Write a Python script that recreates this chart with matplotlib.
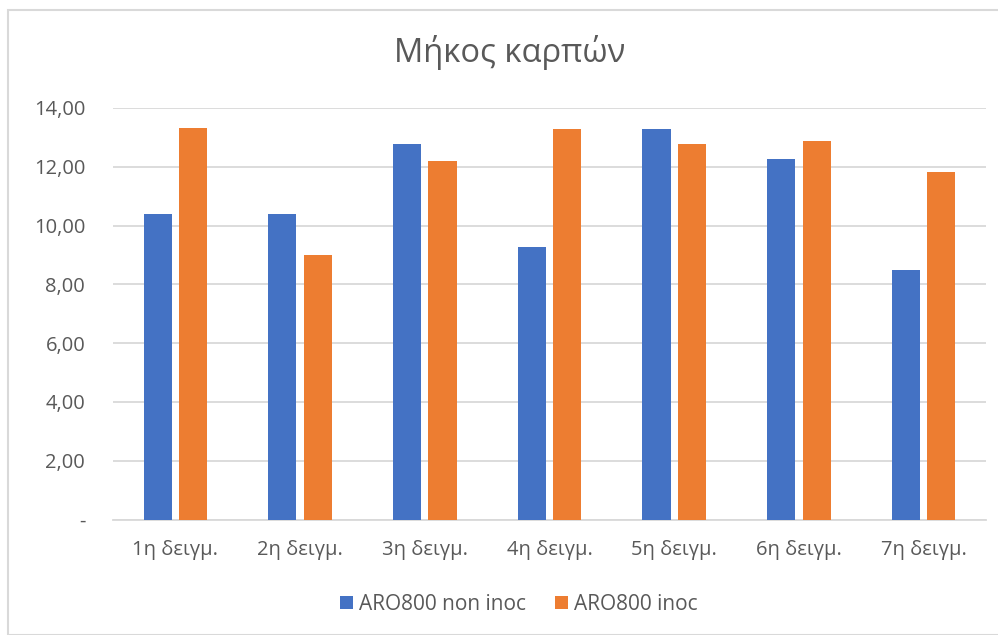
import matplotlib
matplotlib.use("Agg")
import matplotlib.pyplot as plt
from matplotlib.patches import Rectangle
import numpy as np

plt.rcParams['font.family'] = ['Open Sans', 'DejaVu Sans']

categories = ["1η δειγμ.", "2η δειγμ.", "3η δειγμ.", "4η δειγμ.", "5η δειγμ.", "6η δειγμ.", "7η δειγμ."]
non_inoc = [10.38, 10.38, 12.77, 9.26, 13.27, 12.27, 8.50]
inoc = [13.31, 9.00, 12.19, 13.27, 12.77, 12.88, 11.84]
series_names = ["ARO800 non inoc", "ARO800 inoc"]
yticks = [0, 2, 4, 6, 8, 10, 12, 14]
ytick_labels = ["-", "2,00", "4,00", "6,00", "8,00", "10,00", "12,00", "14,00"]

blue = "#4472C4"
orange = "#ED7D31"
text_col = "#595959"
grid_col = "#D9D9D9"

W, H = 998, 635
fig = plt.figure(figsize=(W / 100, H / 100), dpi=100)
fig.patch.set_facecolor("white")

# chart area border
fig.add_artist(Rectangle((8 / W, 0), 1.0, 1 - 10 / H, transform=fig.transFigure,
                         fill=False, edgecolor=grid_col, linewidth=1.5))

ax = fig.add_axes([113 / W, 1 - 519.6 / H, (986 - 113) / W, (519.6 - 108) / H])
x = np.arange(len(categories))
bw = 0.225
off = 0.142
ax.bar(x - off, non_inoc, width=bw, color=blue, label=series_names[0], zorder=3)
ax.bar(x + off, inoc, width=bw, color=orange, label=series_names[1], zorder=3)

ax.set_xlim(-0.5, len(categories) - 0.5)
ax.set_ylim(0, 14)
ax.set_yticks(yticks)
ax.set_yticklabels(ytick_labels)
ax.set_xticks(x)
ax.set_xticklabels(categories)
ax.yaxis.grid(True, color=grid_col, linewidth=1.3, zorder=0)
ax.set_axisbelow(True)
for s in ["top", "right", "left"]:
    ax.spines[s].set_visible(False)
ax.spines["bottom"].set_color(grid_col)
ax.spines["bottom"].set_linewidth(1.3)
ax.tick_params(axis="both", length=0, colors=text_col, labelsize=14.5)
ax.tick_params(axis="y", pad=20)
ax.tick_params(axis="x", pad=15)

fig.text(0.511, 1 - 53 / H, "Μήκος καρπών", ha="center", va="center",
         fontsize=23.5, color=text_col)

leg = fig.legend(loc="center", bbox_to_anchor=(519 / W, 1 - 604 / H), ncol=2,
                 frameon=False, fontsize=15, handlelength=0.6, handleheight=0.6,
                 handletextpad=0.3, columnspacing=1.4)
for t in leg.get_texts():
    t.set_color(text_col)

fig.savefig("out.png", dpi=100)
